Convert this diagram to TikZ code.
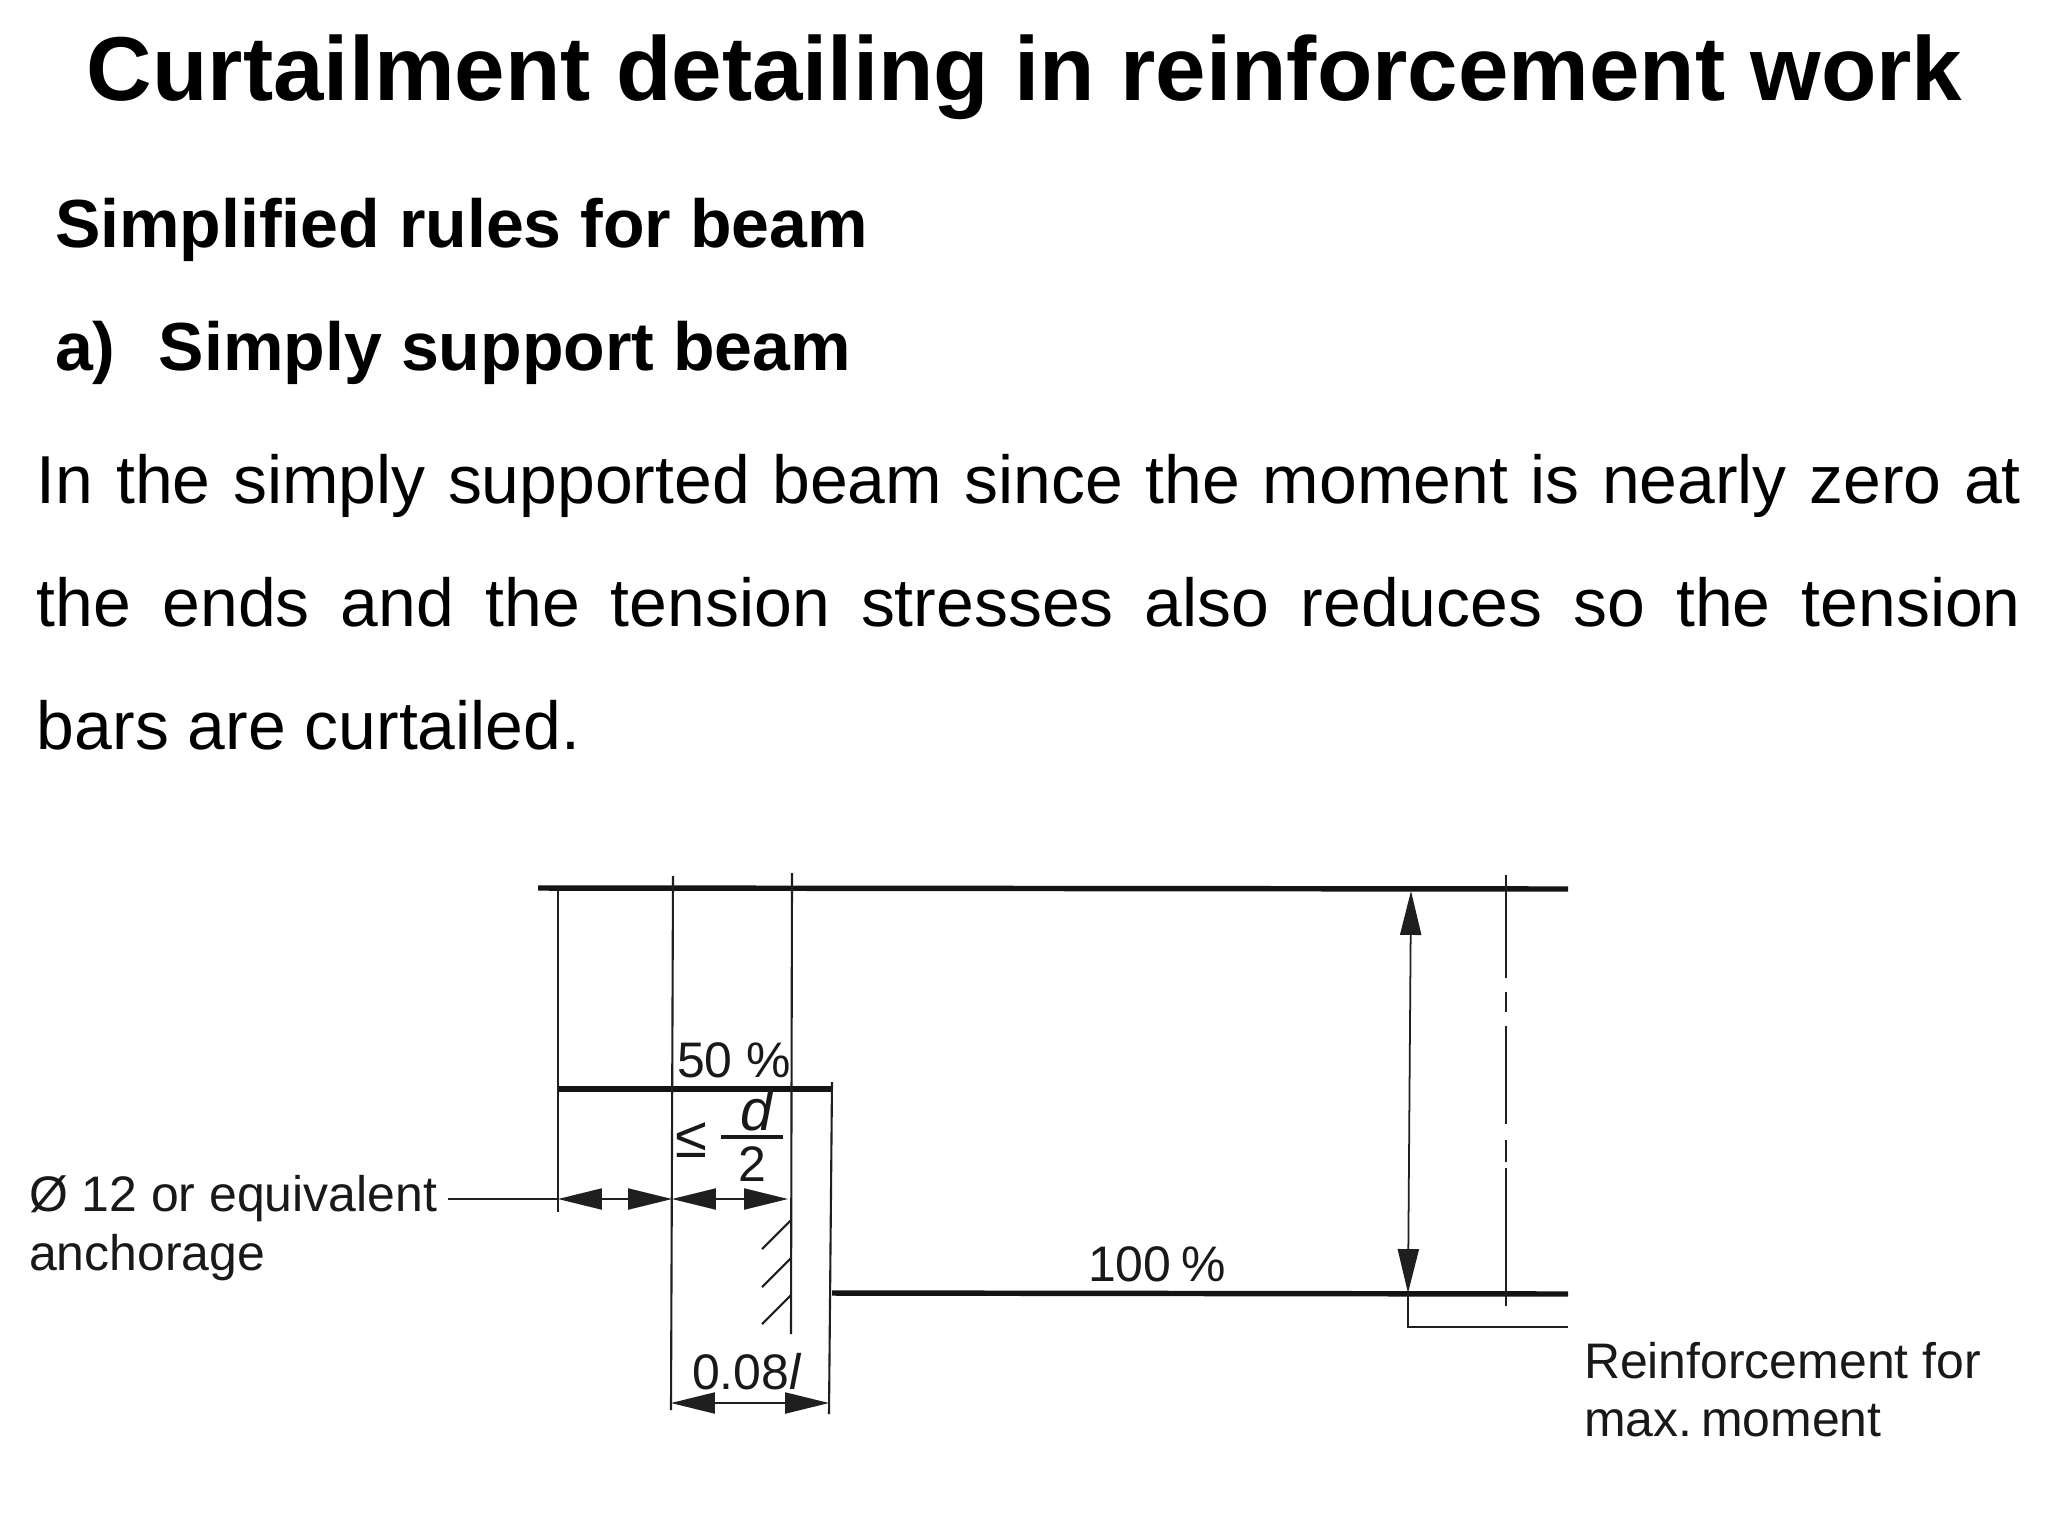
\documentclass[tikz,border=0pt]{standalone}
\usepackage{fontspec}
\setmainfont{Liberation Sans}
\usetikzlibrary{arrows.meta}
\tikzset{
 px/.style={x=0.01cm,y=-0.01cm},
 txt/.style={inner sep=0pt,outer sep=0pt,anchor=base west},
 thick line/.style={line width=1.55pt,black!92},
 thin line/.style={line width=0.6pt,black!88},
 dim/.style={line width=0.5pt,black!88,{Triangle[length=12.5pt,width=6pt]}-{Triangle[length=12.5pt,width=6pt]}},
 vdim/.style={line width=0.5pt,black!88,{Triangle[length=12.5pt,width=6pt]}-{Triangle[length=12.5pt,width=6pt]}},
 title/.style={txt,font=\fontsize{25.8}{30}\bfseries\selectfont},
 head/.style={txt,font=\fontsize{19.35}{22}\bfseries\selectfont},
 body/.style={txt,font=\fontsize{19.3}{22}\selectfont},
 lab/.style={txt,font=\fontsize{14.2}{16}\selectfont,black!90},
}
\begin{document}
\begin{tikzpicture}[px]
\useasboundingbox (0,0) rectangle (2048,1536);
\fill[white] (0,0) rectangle (2048,1536);
\node[title] (t) at (87,100) {Curtailment detailing in reinforcement work};
\node[head] (h1) at (55,247) {Simplified rules for beam};
\node[head] (h2) at (55,370) {a)\hspace{0.64em}Simply support beam};
\node[body] (b1) at (37,503.5) {\makebox[1984\dimexpr0.01cm\relax][s]{In the simply supported beam since the moment is nearly zero at}};
\node[body] (b2) at (37,626.5) {\makebox[1984\dimexpr0.01cm\relax][s]{the ends and the tension stresses also reduces so the tension}};
\node[body] (b3) at (37,749.5) {bars are curtailed.};
% main bars
\coordinate (tl) at (538,888); \coordinate (tr) at (1568,889);
\coordinate (ml) at (558,1089); \coordinate (mr) at (832,1089);
\coordinate (bl) at (832,1293); \coordinate (br) at (1568,1294);
\draw[thick line] (tl)--(tr);
\draw[thick line] (ml)--(mr);
\draw[thick line] (bl)--(br);
% verticals
\draw[thin line] (558,888)--(558,1212);
\draw[thin line] (673,876)--(671,1410);
\draw[thin line] (792,873)--(791,1334);
\draw[thin line] (832,1082)--(829,1414);
\foreach \y in {1220,1258,1295}{\draw[thin line] (791,\y)--(762,\y+29);}
% dimensions
\coordinate (d0) at (448,1199);
\draw[thin line] (d0)--(558,1199);
\draw[dim] (558,1199)--(672,1199);
\draw[dim] (672,1199)--(788,1199);
\draw[dim] (671,1403)--(829,1403);
\draw[vdim] (1411,891)--(1408,1293);
\draw[thin line] (1408,1293)--(1408,1327)--(1568,1327);
\draw[thin line] (1506,875)--(1506,978) (1506,992)--(1506,1012) (1506,1026)--(1506,1124) (1506,1140)--(1506,1162) (1506,1168)--(1506,1306);
% labels
\node[lab] (l50) at (677,1077) {50 \%};
\node[lab] (l100) at (1088,1281) {100\hspace{0.2em}\%};
\node[lab] (l08) at (692,1389) {0.08\textit{l}};
\node[lab,font=\fontsize{16.5}{18}\selectfont] (leq) at (675,1157) {≤};
\node[lab,font=\fontsize{16.5}{18}\selectfont] (ld) at (740,1130) {\textit{d}};
\draw[line width=1pt,black!90] (721,1137)--(783,1137);
\node[lab] (l2) at (738,1181) {2};
\node[lab] (o12) at (29,1211) {Ø 12 or equivalent};
\node[lab] (anc) at (29,1270) {anchorage};
\node[lab] (r1) at (1584,1378) {Reinforcement for};
\node[lab] (r2) at (1584,1436) {max.\hspace{0.18em}moment};
\end{tikzpicture}
\end{document}
